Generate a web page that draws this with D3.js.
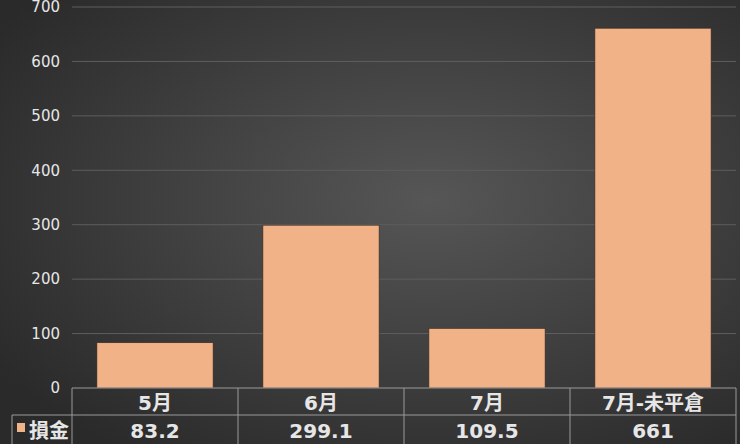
<!DOCTYPE html>
<html>
<head>
<meta charset="utf-8">
<script src="https://cdn.jsdelivr.net/npm/d3@7"></script>
<style>
  html, body { margin: 0; padding: 0; background: #2b2b2b; }
  svg { display: block; }
</style>
</head>
<body>
<svg id="chart" width="740" height="444"></svg>
<script>
// data
const categories = ["5月", "6月", "7月", "7月-未平倉"];
const values = [83.2, 299.1, 109.5, 661];
const valueLabels = ["83.2", "299.1", "109.5", "661"];
const seriesName = "損金";
const yTicks = [0, 100, 200, 300, 400, 500, 600, 700];

const W = 740, H = 444;
const plotLeft = 72, plotRight = 736, plotTop = 7, base = 388;
const rowH = 27;

const svg = d3.select("#chart");

// background: dark radial glow
const defs = svg.append("defs");
const grad = defs.append("radialGradient")
        .attr("id", "bg")
        .attr("cx", "58%").attr("cy", "45%").attr("r", "70%");
grad.append("stop").attr("offset", "0%").attr("stop-color", "#565656");
grad.append("stop").attr("offset", "100%").attr("stop-color", "#2a2a2a");

svg.append("rect")
        .attr("width", W).attr("height", H)
        .attr("fill", "url(#bg)");

const x = d3.scaleBand()
        .domain(categories)
        .range([plotLeft, plotRight])
        .paddingInner(0.3)
        .paddingOuter(0.15);

const xCell = d3.scaleBand()
        .domain(categories)
        .range([plotLeft, plotRight]);

const y = d3.scaleLinear()
        .domain([0, 700])
        .range([base, plotTop]);

// gridlines
svg.append("g")
        .selectAll("line")
        .data(yTicks.filter(d => d > 0))
        .join("line")
        .attr("x1", plotLeft).attr("x2", plotRight)
        .attr("y1", d => y(d)).attr("y2", d => y(d))
        .attr("stroke", "#5e5e5e")
        .attr("stroke-width", 1);

// y axis labels
const yAxis = d3.axisLeft(y).tickValues(yTicks).tickSize(0).tickPadding(12);
const gy = svg.append("g")
        .attr("transform", `translate(${plotLeft},0)`)
        .call(yAxis);
gy.select(".domain").remove();
gy.selectAll("text")
        .attr("fill", "#e6e6e6")
        .attr("font-family", "DejaVu Sans, sans-serif")
        .attr("font-size", "15px");

// bars
svg.append("g")
        .selectAll("rect")
        .data(values)
        .join("rect")
        .attr("x", (d, i) => x(categories[i]))
        .attr("width", x.bandwidth())
        .attr("y", d => y(d))
        .attr("height", d => base - y(d))
        .attr("fill", "#f2b287")
        .attr("stroke", "#3a2a20")
        .attr("stroke-width", 0.6);

// data table under the plot
const tbl = svg.append("g");
const lineCol = "#9a9a9a";

// horizontal lines
tbl.append("line")
        .attr("x1", plotLeft).attr("x2", plotRight)
        .attr("y1", base).attr("y2", base)
        .attr("stroke", lineCol);
tbl.append("line")
        .attr("x1", 12).attr("x2", plotRight)
        .attr("y1", base + rowH).attr("y2", base + rowH)
        .attr("stroke", lineCol);

// vertical lines
const vx = categories.map(c => xCell(c)).concat([plotRight]);
tbl.selectAll("line.v")
        .data(vx)
        .join("line")
        .attr("class", "v")
        .attr("x1", d => d).attr("x2", d => d)
        .attr("y1", base).attr("y2", H)
        .attr("stroke", lineCol);
tbl.append("line")
        .attr("x1", 12).attr("x2", 12)
        .attr("y1", base + rowH).attr("y2", H)
        .attr("stroke", lineCol);

// header texts
tbl.selectAll("text.cat")
        .data(categories)
        .join("text")
        .attr("class", "cat")
        .attr("x", d => xCell(d) + xCell.bandwidth() / 2)
        .attr("y", base + 22)
        .attr("text-anchor", "middle")
        .attr("fill", "#e6e6e6")
        .attr("font-family", "DejaVu Sans, Noto Sans CJK TC, sans-serif")
        .attr("font-weight", "bold")
        .attr("font-size", "20px")
        .text(d => d);

// value texts
tbl.selectAll("text.val")
        .data(valueLabels)
        .join("text")
        .attr("class", "val")
        .attr("x", (d, i) => xCell(categories[i]) + xCell.bandwidth() / 2)
        .attr("y", base + rowH + 23)
        .attr("text-anchor", "middle")
        .attr("fill", "#e6e6e6")
        .attr("font-family", "DejaVu Sans, sans-serif")
        .attr("font-weight", "bold")
        .attr("font-size", "20px")
        .text(d => d);

// legend key + series name
tbl.append("rect")
        .attr("x", 17).attr("y", base + rowH + 8)
        .attr("width", 8).attr("height", 9)
        .attr("fill", "#f2b287");
tbl.append("text")
        .attr("x", 29).attr("y", base + rowH + 23)
        .attr("fill", "#e6e6e6")
        .attr("font-family", "Noto Sans CJK TC, sans-serif")
        .attr("font-weight", "bold")
        .attr("font-size", "20px")
        .text(seriesName);
</script>
</body>
</html>
